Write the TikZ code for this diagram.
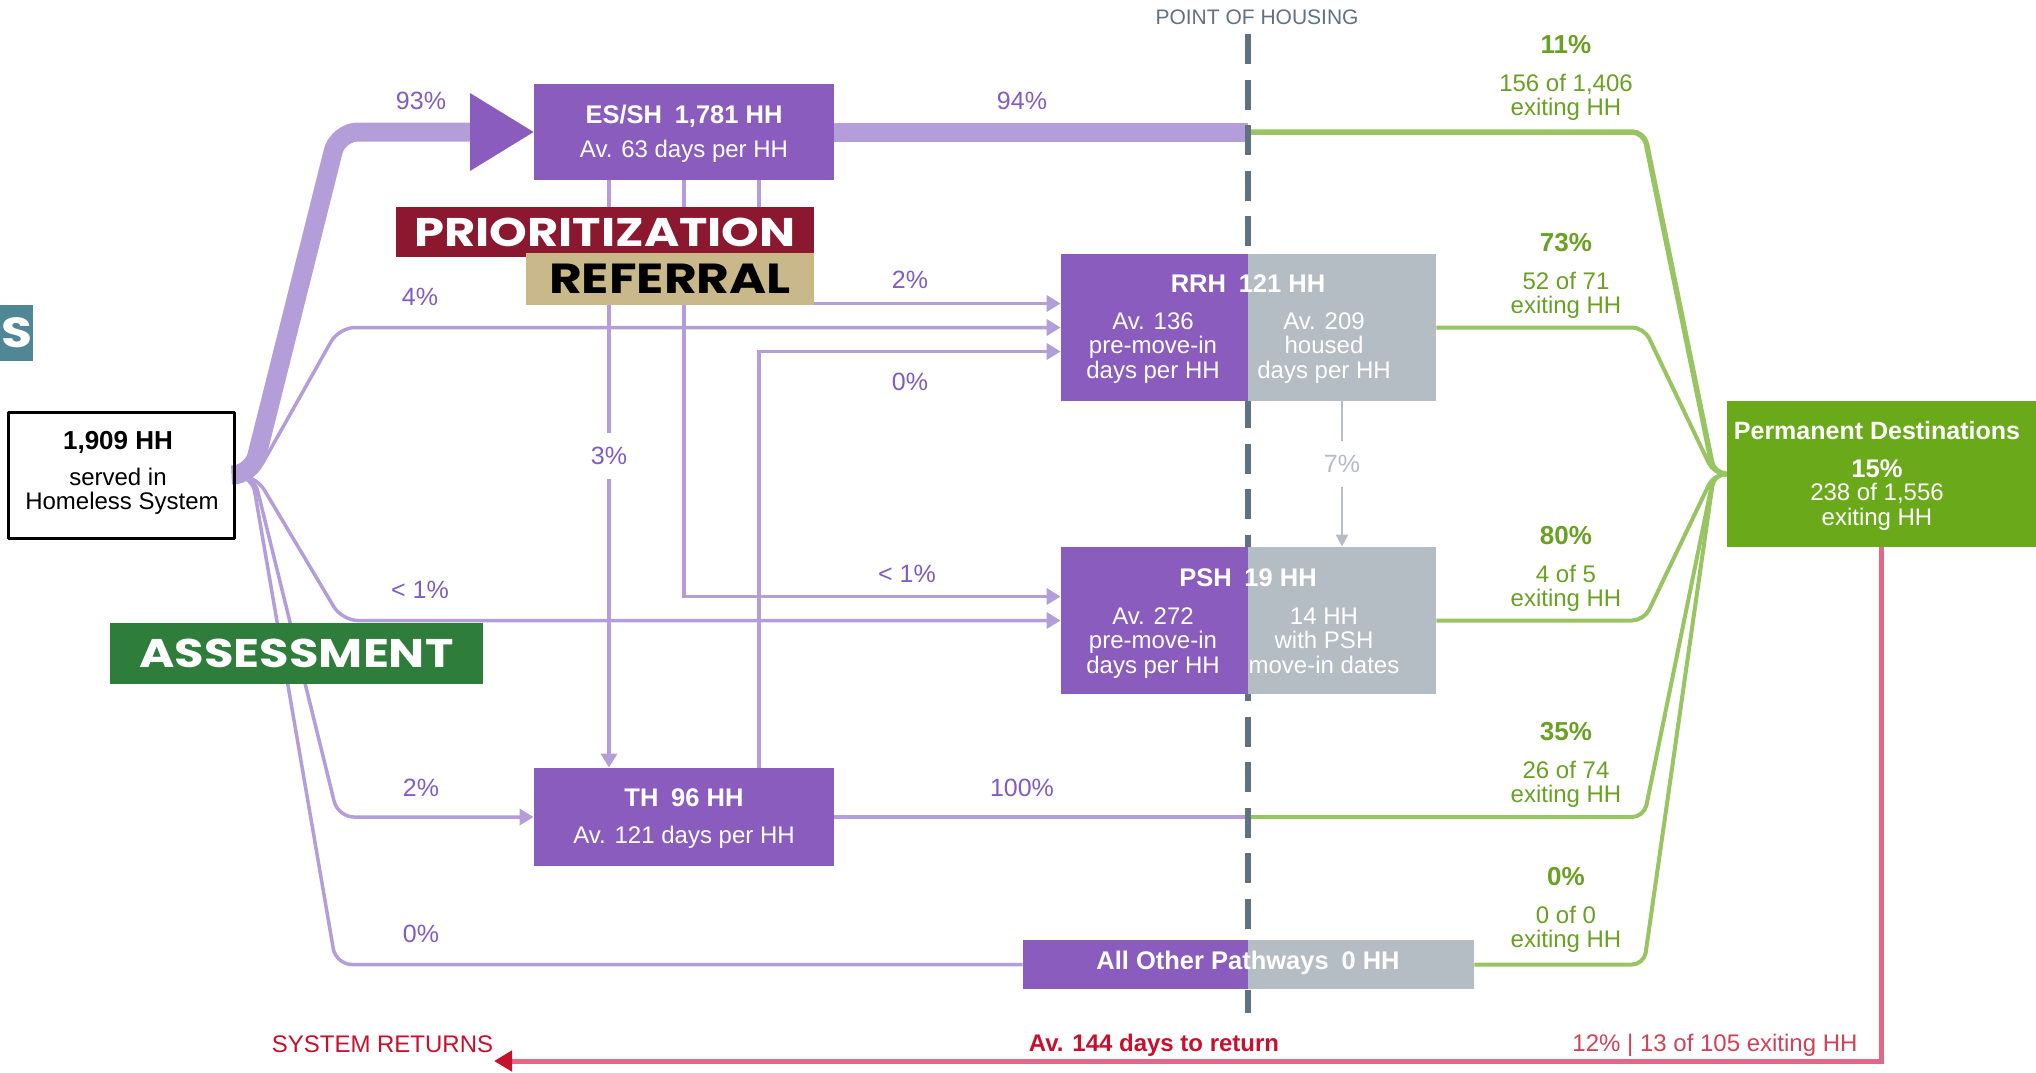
\documentclass[tikz,border=0pt]{standalone}
\usepackage{fontspec}
\setmainfont{Liberation Sans}
\newfontfamily\plainfont{Liberation Sans}
\newfontfamily\capsfont{Poppins}[FakeStretch=1.2]
\usetikzlibrary{arrows.meta}
\pgfdeclarelayer{background}
\pgfsetlayers{background,main}

\definecolor{boxpurple}{RGB}{138,92,190}
\definecolor{flowpurple}{RGB}{180,158,218}
\definecolor{txtpurple}{RGB}{128,92,196}
\definecolor{boxgrey}{RGB}{180,188,196}
\definecolor{pohgrey}{RGB}{96,114,128}
\definecolor{flowgreen}{RGB}{152,196,98}
\definecolor{txtgreen}{RGB}{106,160,36}
\definecolor{pdgreen}{RGB}{106,170,26}
\definecolor{prired}{RGB}{140,24,48}
\definecolor{reftan}{RGB}{200,184,138}
\definecolor{assgreen}{RGB}{46,125,58}
\definecolor{accteal}{RGB}{80,135,150}
\definecolor{retred}{RGB}{200,16,46}
\definecolor{retpink}{RGB}{224,104,136}

\tikzset{
  lbl/.style={anchor=base,inner sep=0pt},
  pbox/.style={fill=boxpurple,inner sep=0pt},
  gbox/.style={fill=boxgrey,inner sep=0pt},
  ttl/.style={text=white,font=\fontsize{12.75}{15}\selectfont\bfseries},
  bdy/.style={text=white,font=\fontsize{12}{12.25}\selectfont,align=center},
  pct/.style={text=txtpurple,font=\fontsize{12.5}{14}\selectfont},
  gpct/.style={text=txtgreen,font=\fontsize{13}{15}\selectfont\bfseries},
  gtxt/.style={text=txtgreen,font=\fontsize{12}{14}\selectfont},
  rtxt/.style={text=retred,font=\fontsize{12}{14}\selectfont},
  flow/.style={draw=flowpurple,line width=1.75pt},
  band/.style={draw=flowpurple,line width=9.5pt,rounded corners=10pt},
  exit/.style={draw=flowgreen,line width=2pt,rounded corners=6pt},
  stage/.style={font=\capsfont\bfseries\fontsize{20}{22}\selectfont,inner sep=0pt},
}

\begin{document}
\begin{tikzpicture}[x=0.5pt,y=-0.5pt,>={Triangle[length=7pt,width=8pt]},line join=round]
\useasboundingbox (0,0) rectangle (2036,1072);
\begin{pgfonlayer}{background}
\fill[white] (0,0) rectangle (2036,1072);
\end{pgfonlayer}

% start box
\node[draw=black,line width=1.5pt,minimum width=113pt,minimum height=63pt,inner sep=0pt] (start) at (121,475) {};
\node[lbl,font=\plainfont\bfseries\fontsize{13}{15}\selectfont] (startT) at (118,449) {1,909 HH};
\node[lbl,font=\plainfont\fontsize{12}{14}\selectfont] (startA) at (118,485) {served in};
\node[lbl,font=\plainfont\fontsize{12}{14}\selectfont] (startB) at (122,509) {Homeless System};

% programme boxes
\node[pbox,minimum width=150pt,minimum height=48pt] (essh) at (684,132) {};
\node[lbl,ttl] (esshT) at (684,123) {ES/SH\enspace 1,781 HH};
\node[lbl,bdy] (esshB) at (684,157) {Av. 63 days per HH};

\node[pbox,minimum width=150pt,minimum height=49pt] (th) at (684,817) {};
\node[lbl,ttl] (thT) at (684,806) {TH\enspace 96 HH};
\node[lbl,bdy] (thB) at (684,843) {Av. 121 days per HH};

\node[pbox,minimum width=93.5pt,minimum height=73.5pt] (rrhL) at (1154.5,327.5) {};
\node[gbox,minimum width=94pt,minimum height=73.5pt] (rrhR) at (1342,327.5) {};
\node[lbl,ttl] (rrhT) at (1248,292) {RRH\enspace 121 HH};
\node[lbl,bdy] (rrhA) at (1153,378) {Av. 136\\pre-move-in\\days per HH};
\node[lbl,bdy] (rrhB) at (1324,378) {Av. 209\\housed\\days per HH};

\node[pbox,minimum width=93.5pt,minimum height=73.5pt] (pshL) at (1154.5,620.5) {};
\node[gbox,minimum width=94pt,minimum height=73.5pt] (pshR) at (1342,620.5) {};
\node[lbl,ttl] (pshT) at (1248,586) {PSH\enspace 19 HH};
\node[lbl,bdy] (pshA) at (1153,673) {Av. 272\\pre-move-in\\days per HH};
\node[lbl,bdy] (pshB) at (1324,673) {14 HH\\with PSH\\move-in dates};

\node[pbox,minimum width=112.5pt,minimum height=24.5pt] (othL) at (1135.5,964.5) {};
\node[gbox,minimum width=113pt,minimum height=24.5pt] (othR) at (1361,964.5) {};
\node[lbl,ttl] (othT) at (1248,969) {All Other Pathways\enspace 0 HH};

\node[fill=pdgreen,minimum width=154.5pt,minimum height=73pt,inner sep=0pt] (pd) at (1881.5,474) {};
\node[lbl,ttl,font=\fontsize{12.5}{15}\selectfont\bfseries] (pdT) at (1877,439) {Permanent Destinations};
\node[lbl,ttl] (pdP) at (1877,477) {15\%};
\node[lbl,bdy] (pdA) at (1877,500) {238 of 1,556};
\node[lbl,bdy] (pdB) at (1877,525) {exiting HH};

% big entry arrow of ES/SH
\coordinate (tri) at (474,132);
\fill[boxpurple] (470,93) -- (essh.west) -- (470,171) -- cycle;

\coordinate (hES) at (1248,132);
\coordinate (hTH) at (1248,817);
\coordinate (pdin) at (1714,474);
\coordinate (pohT) at (1248,34);
\coordinate (pohB) at (1248,1013);
\coordinate (retend) at (494,1061);

\begin{pgfonlayer}{background}
% flows into the system
\draw[band] (start.east) -- (252,475) -- (338,132) -- (tri);
\draw[band] (essh.east) -- (hES);
\draw[flow,->,rounded corners=8pt] (start.east) -- (256,475) -- (339,327.5) -- (rrhL.west);
\draw[flow,->,rounded corners=8pt] (start.east) -- (256,476) -- (342,620.5) -- (pshL.west);
\draw[flow,->,rounded corners=8pt] (start.east) -- (254,476) -- (338,817) -- (th.west);
\draw[flow,rounded corners=8pt] (start.east) -- (252,476) -- (336,964.5) -- (othL.west);
\draw[flow,->] ([xshift=-37.5pt]essh.south) -- ([xshift=-37.5pt]th.north);
\draw[flow,->] (essh.south) |- ([yshift=12pt]pshL.west);
\draw[flow,->] ([xshift=37.5pt]essh.south) |- ([yshift=12pt]rrhL.west);
\draw[flow,->] ([xshift=37.5pt]th.north) |- ([yshift=-12pt]rrhL.west);
\draw[flow] (th.east) -- (hTH);
\draw[draw=boxgrey,line width=1pt,-{Triangle[length=6pt,width=6pt]}] (rrhR.south) -- (pshR.north);
% exits
\draw[exit,line width=2.75pt] (hES) -- (1644,132) -- (pdin) -- (pd.west);
\draw[exit] (rrhR.east) -- (1644,327.5) -- (pdin) -- (pd.west);
\draw[exit] (pshR.east) -- (1644,620.5) -- (pdin) -- (pd.west);
\draw[exit] (hTH) -- (1644,817) -- (pdin) -- (pd.west);
\draw[exit] (othR.east) -- (1644,964.5) -- (pdin) -- (pd.west);
% point of housing
\draw[draw=pohgrey,line width=3pt,dash pattern=on 15pt off 7.75pt] (pohT) -- (pohB);
% returns
\draw[draw=retpink,line width=2.5pt,-{Triangle[length=9pt,width=10pt,color=retred]}] (pd.south) |- (retend);
\end{pgfonlayer}

% stage labels
\node[stage,fill=prired,text=white,minimum width=209pt,minimum height=25pt] (prio) at (605,232) {PRIORITIZATION};
\node[stage,fill=reftan,text=black,minimum width=144pt,minimum height=26pt,font=\capsfont\bfseries\fontsize{21}{22}\selectfont] (refl) at (670,279) {REFERRAL};
\node[stage,fill=assgreen,text=white,minimum width=186.5pt,minimum height=30.5pt] (assm) at (296.5,653.5) {ASSESSMENT};
\node[fill=accteal,minimum width=16.5pt,minimum height=28pt,inner sep=0pt] (accs) at (16.5,333) {};
\node[text=white,inner sep=0pt,font=\capsfont\bfseries\fontsize{21}{22}\selectfont] (accsT) at (accs.center) {S};

% percentages
\node[lbl,pct] (p93) at (421,109) {93\%};
\node[lbl,pct] (p94) at (1022,109) {94\%};
\node[lbl,pct] (p4) at (420,305) {4\%};
\node[lbl,pct] (p2r) at (910,288) {2\%};
\node[lbl,pct] (p0r) at (910,390) {0\%};
\node[lbl,pct] (p1p) at (907,582) {< 1\%};
\node[lbl,pct] (p1s) at (420,598) {< 1\%};
\node[lbl,pct] (p2t) at (421,796) {2\%};
\node[lbl,pct] (p0o) at (421,942) {0\%};
\node[lbl,pct] (p100) at (1022,796) {100\%};
\node[pct,fill=white,inner xsep=2pt,inner ysep=7pt] (p3) at (609,456) {3\%};
\node[pct,text=boxgrey,fill=white,inner xsep=2pt,inner ysep=7pt] (p7) at (1342,464) {7\%};

\foreach \yb/\pc/\nn in {91/11/{156 of 1,406},289/73/{52 of 71},582/80/{4 of 5},778/35/{26 of 74},923/0/{0 of 0}}{
  \node[lbl,gpct] (gp\pc) at (1566,\yb-38) {\pc\%};
  \node[lbl,gtxt] (gn\pc) at (1566,\yb) {\nn};
  \node[lbl,gtxt] (ge\pc) at (1566,\yb+24) {exiting HH};
}

\node[lbl,text=pohgrey,font=\fontsize{10.5}{14}\selectfont] (pohL) at (1257,24) {POINT OF HOUSING};
\node[lbl,rtxt] (sysret) at (382.5,1052) {SYSTEM RETURNS};
\node[lbl,rtxt,font=\fontsize{12}{14}\selectfont\bfseries] (retav) at (1154,1051) {Av. 144 days to return};
\node[lbl,rtxt,text=retred!80] (retpc) at (1715,1051) {12\% | 13 of 105 exiting HH};
\end{tikzpicture}
\end{document}
